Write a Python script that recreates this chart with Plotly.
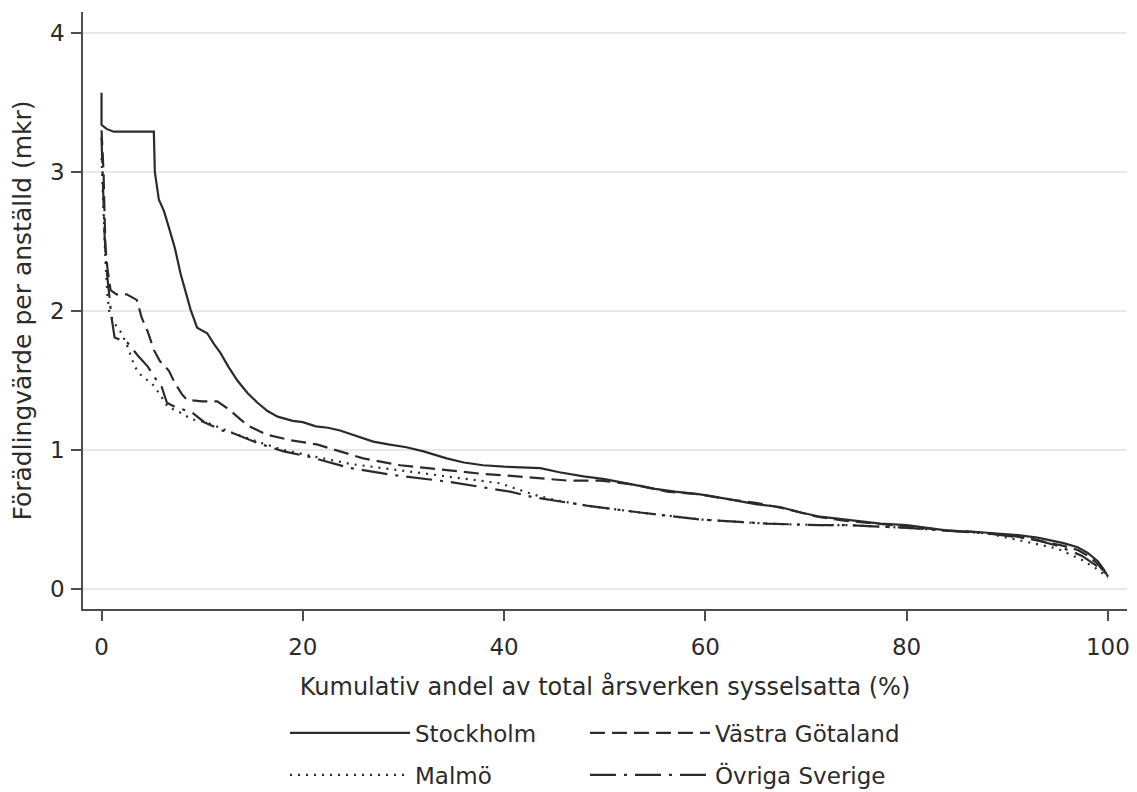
import plotly.graph_objects as go

# ---- data ----
sthlm_x = [0, 0, 0.5, 1.2, 5.2, 5.3, 5.7, 6.2, 6.7, 7.3, 7.85, 8.4, 8.85, 9.5, 10.5, 11.2, 11.8, 12.6,
           13.5, 14.5, 15.5, 16.5, 17.5, 19, 20, 21.3, 22.5, 23.7, 25, 27, 28.5, 30.3, 32, 34.3, 36,
           37.9, 40, 43.6, 45.5, 47.9, 50, 52.9, 55, 57, 59.5, 62, 65, 67.4, 69.5, 71.4, 74, 77.4,
           80, 84.1, 87, 90.7, 93, 95.6, 97, 98, 99, 99.6, 100]
sthlm_y = [3.57, 3.34, 3.31, 3.29, 3.29, 3.0, 2.80, 2.72, 2.60, 2.45, 2.27, 2.12, 2.01, 1.88, 1.84, 1.76, 1.70, 1.60,
           1.50, 1.41, 1.34, 1.28, 1.24, 1.21, 1.20, 1.17, 1.16, 1.14, 1.11, 1.06, 1.04, 1.02, 0.99, 0.94, 0.91,
           0.89, 0.88, 0.87, 0.84, 0.81, 0.79, 0.75, 0.72, 0.70, 0.68, 0.65, 0.61, 0.59, 0.55, 0.52, 0.50, 0.47,
           0.46, 0.42, 0.41, 0.39, 0.37, 0.33, 0.30, 0.26, 0.20, 0.14, 0.09]

vg_x = [0, 0.2, 0.3, 0.4, 0.6, 0.9, 1.5, 2.5, 3.5, 4.0, 4.6, 5.2, 5.8, 6.7, 7.3, 8.0, 8.5, 10, 11.5, 12.7,
        13.8, 14.7, 16.4, 18.8, 21.4, 23.7, 26, 29.7, 33.6, 37.6, 41.3, 46.3, 49.6, 53, 56.2, 59.5, 62.8,
        65, 67.8, 71.1, 74, 77.4, 80, 84.1, 87, 90.7, 93, 95.6, 97, 98, 99, 100]
vg_y = [3.30, 3.0, 2.7, 2.45, 2.30, 2.15, 2.12, 2.12, 2.08, 1.95, 1.85, 1.72, 1.64, 1.57, 1.48, 1.40, 1.36, 1.35, 1.35, 1.29,
        1.22, 1.17, 1.11, 1.07, 1.04, 0.99, 0.94, 0.89, 0.86, 0.83, 0.81, 0.78, 0.78, 0.75, 0.70, 0.68, 0.64,
        0.62, 0.58, 0.52, 0.49, 0.47, 0.45, 0.42, 0.41, 0.38, 0.35, 0.31, 0.28, 0.24, 0.18, 0.09]

malmo_x = [0, 0.2, 0.4, 0.6, 0.8, 1.4, 2.0, 2.6, 3.3, 4.0, 5.0, 5.8, 6.6, 7.8, 9, 10.4, 13.1, 15.5, 18.1,
           20.7, 24.7, 29, 34.6, 39.6, 42.9, 45, 48.2, 53.5, 59.5, 66.1, 71.1, 74, 80, 84.1, 88, 92.5,
           95, 97.4, 99, 100]
malmo_y = [3.1, 2.7, 2.35, 2.1, 1.98, 1.90, 1.84, 1.74, 1.60, 1.53, 1.48, 1.40, 1.31, 1.27, 1.22, 1.20, 1.12, 1.06, 1.00,
           0.96, 0.90, 0.86, 0.81, 0.76, 0.68, 0.64, 0.60, 0.55, 0.50, 0.47, 0.46, 0.46, 0.44, 0.42, 0.40, 0.33,
           0.29, 0.21, 0.14, 0.08]

ovr_x = [0, 0.15, 0.3, 0.5, 0.7, 1.0, 1.3, 2.0, 2.6, 3.6, 4.6, 5.3, 6.0, 6.5, 7.3, 9, 10.2, 12, 13.1,
         15.5, 18.1, 20.7, 24.7, 29, 34.6, 40.6, 42.9, 48.2, 53.5, 59.5, 66.1, 71.1, 74, 80, 84.1, 88,
         92.5, 95, 97.4, 99, 100]
ovr_y = [3.25, 2.9, 2.55, 2.3, 2.15, 1.95, 1.81, 1.79, 1.77, 1.68, 1.60, 1.52, 1.45, 1.34, 1.31, 1.27, 1.20, 1.14, 1.12,
         1.05, 0.99, 0.95, 0.87, 0.82, 0.77, 0.70, 0.66, 0.60, 0.55, 0.50, 0.47, 0.46, 0.46, 0.44, 0.42, 0.40,
         0.36, 0.31, 0.24, 0.16, 0.10]

names = ["Stockholm", "Västra Götaland", "Malmö", "Övriga Sverige"]
x_ticks = [0, 20, 40, 60, 80, 100]
y_ticks = [0, 1, 2, 3, 4]

FONT = "DejaVu Sans"
INK = "#2b2b2b"
AXC = "#4d4d4d"

series = [
    (names[0], sthlm_x, sthlm_y, "solid", "legend"),
    (names[1], vg_x, vg_y, "15px,7px", "legend2"),
    (names[2], malmo_x, malmo_y, "2px,6px", "legend3"),
    (names[3], ovr_x, ovr_y, "26px,8px,3px,8px", "legend4"),
]

fig = go.Figure()
for name, xs, ys, dash, leg in series:
    fig.add_trace(go.Scatter(x=xs, y=ys, mode="lines", name=name, legend=leg,
                             line=dict(color=INK, width=2.2, dash=dash)))

axis_common = dict(
    showline=True, linecolor=AXC, linewidth=1.5,
    ticks="outside", tickwidth=1.5, tickcolor=AXC,
    tickfont=dict(family=FONT, size=23, color=INK),
    zeroline=False,
)

fig.update_xaxes(range=[-1.84, 101.9], tickvals=x_ticks, showgrid=False,
                 ticklen=10, ticklabelstandoff=7,
                 title=dict(text="Kumulativ andel av total årsverken sysselsatta (%)",
                            font=dict(family=FONT, size=24, color=INK), standoff=19),
                 **axis_common)
fig.update_yaxes(range=[-0.144, 4.151], tickvals=y_ticks, showgrid=True,
                 gridcolor="#e8e8e8", gridwidth=1.5,
                 ticklen=10, ticklabelstandoff=2,
                 title=dict(text="Förädlingvärde per anställd (mkr)",
                            font=dict(family=FONT, size=25, color=INK), standoff=12),
                 **axis_common)

leg_common = dict(orientation="h", xanchor="left", yanchor="middle", itemwidth=120,
                  font=dict(family=FONT, size=23, color=INK), bgcolor="rgba(0,0,0,0)")

# page body has an 8px margin, so the figure is sized/offset to keep the plot box in place
fig.update_layout(
    width=1129, height=784,
    margin=dict(l=75, r=10, t=4, b=183, autoexpand=False),
    paper_bgcolor="white", plot_bgcolor="white",
    showlegend=True,
    legend=dict(x=0.1935, y=-0.2077, **leg_common),
    legend2=dict(x=0.4808, y=-0.2077, **leg_common),
    legend3=dict(x=0.1935, y=-0.278, **leg_common),
    legend4=dict(x=0.4808, y=-0.278, **leg_common),
)

fig.write_html("out.html")
